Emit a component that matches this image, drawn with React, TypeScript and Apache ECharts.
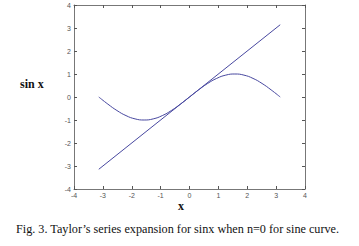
import React, { useEffect, useRef } from "react";
import * as echarts from "echarts";

const lineX = [-3.1416, 3.1416];
const lineY = [-3.1416, 3.1416];
const sinX = [-3.1416, -2.8274, -2.5133, -2.1991, -1.885, -1.5708, -1.2566, -0.9425, -0.6283, -0.3142, 0, 0.3142, 0.6283, 0.9425, 1.2566, 1.5708, 1.885, 2.1991, 2.5133, 2.8274, 3.1416];
const sinY = [0, -0.309, -0.5878, -0.809, -0.9511, -1, -0.9511, -0.809, -0.5878, -0.309, 0, 0.309, 0.5878, 0.809, 0.9511, 1, 0.9511, 0.809, 0.5878, 0.309, 0];
const yLabel = "sin x";
const xLabel = "x";
const caption = "Fig. 3. Taylor\u2019s series expansion for sinx when n=0 for sine curve.";

export default function App() {
  const ref = useRef<HTMLDivElement>(null);
  useEffect(() => {
    const chart = echarts.init(ref.current!, null, { renderer: "svg" });
    const axisCommon = {
      type: "value" as const,
      min: -4,
      max: 4,
      interval: 1,
      splitLine: { show: false },
      axisLine: { show: true, onZero: false, lineStyle: { color: "#777", width: 1 } },
      axisTick: { show: true, inside: true, length: 3, lineStyle: { color: "#555" } },
    };
    const labelStyle = { color: "#555", fontSize: 7, fontFamily: "Liberation Sans" };
    chart.setOption({
      animation: false,
      grid: { left: 74, right: 54, top: 5, bottom: 57 },
      xAxis: [
        { ...axisCommon, position: "bottom", axisLabel: { ...labelStyle, margin: 3 } },
        { ...axisCommon, position: "top", axisLabel: { show: false } },
      ],
      yAxis: [
        { ...axisCommon, position: "left", axisLabel: { ...labelStyle, margin: 3 } },
        { ...axisCommon, position: "right", axisLabel: { show: false } },
      ],
      series: [
        {
          type: "line",
          data: lineX.map((x, i) => [x, lineY[i]]),
          showSymbol: false,
          lineStyle: { color: "#4848a0", width: 1 },
        },
        {
          type: "line",
          data: sinX.map((x, i) => [x, sinY[i]]),
          showSymbol: false,
          smooth: true,
          lineStyle: { color: "#4848a0", width: 1 },
        },
      ],
      graphic: [
        {
          type: "text",
          left: 20,
          top: 78,
          style: { text: yLabel, font: "bold 12px 'Liberation Serif'", fill: "#111" },
        },
        {
          type: "text",
          left: 178,
          top: 200,
          style: { text: xLabel, font: "bold 12px 'Liberation Serif'", fill: "#111" },
        },
        {
          type: "text",
          left: 16,
          top: 223,
          style: { text: caption, font: "12.2px 'Liberation Serif'", fill: "#111" },
        },
      ],
    });
    return () => chart.dispose();
  }, []);
  return <div ref={ref} style={{ position: "fixed", left: 0, top: 0, width: 359, height: 246, background: "#fff" }} />;
}
